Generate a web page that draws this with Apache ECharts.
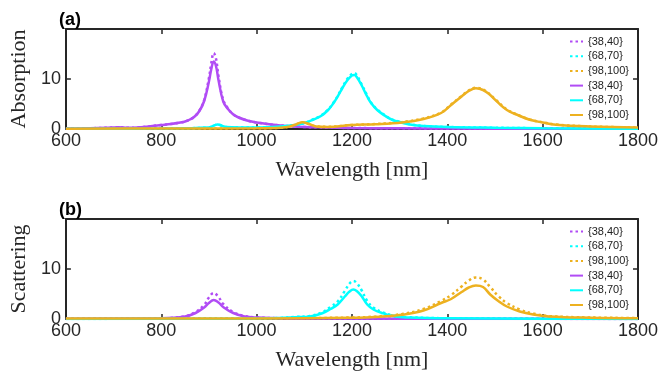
<!DOCTYPE html>
<html>
<head>
<meta charset="utf-8">
<script src="https://cdn.jsdelivr.net/npm/echarts@6/dist/echarts.min.js"></script>
<style>
  html, body { margin: 0; padding: 0; background: #fff; }
  #chart { width: 661px; height: 379px; }
</style>
</head>
<body>
<div id="chart"></div>
<script>
// legend labels (same for both panels)
const labels = ["{38,40}", "{68,70}", "{98,100}"];
const colors = ["#B14CF5", "#00FFFF", "#EDB120"];

// x axis ticks
const xMin = 600, xMax = 1800, xStep = 200;
const yMin = 0, yMax = 20, yStep = 10;

// (a) absorption, [wavelength nm, value]
const absPurpleDot = [[600,0.1],[650,0.15],[700,0.3],[710,0.35],[730,0.25],[750,0.3],[800,0.8],[820,1.0],[840,1.3],[850,1.5],[860,1.9],[870,2.5],[880,3.7],[890,5.8],[900,10.2],[905,13.2],[910,15.2],[915,14.0],[920,10.6],[930,5.8],[940,4.1],[950,3.0],[960,2.4],[980,1.7],[1000,1.3],[1050,0.7],[1100,0.4],[1150,0.3],[1200,0.2],[1300,0.15],[1400,0.1],[1600,0.05],[1800,0.05]];
const absCyanDot = [[600,0.05],[800,0.1],[900,0.3],[918,0.9],[935,0.4],[1000,0.3],[1050,0.5],[1084,0.85],[1100,1.2],[1118,1.9],[1135,2.7],[1150,3.9],[1160,5.1],[1170,6.6],[1180,8.4],[1190,10.0],[1200,11.0],[1205,11.2],[1210,10.8],[1220,9.0],[1232,6.7],[1240,5.3],[1253,3.9],[1270,2.7],[1284,1.9],[1300,1.45],[1325,0.9],[1350,0.6],[1400,0.4],[1500,0.25],[1600,0.15],[1800,0.05]];
const absOrangeDot = [[600,0.05],[800,0.1],[1000,0.15],[1050,0.25],[1070,0.5],[1085,1.0],[1096,1.3],[1110,1.0],[1125,0.5],[1150,0.45],[1200,0.8],[1250,1.0],[1305,1.4],[1350,2.1],[1387,3.3],[1408,4.9],[1430,6.6],[1445,7.7],[1460,8.25],[1475,7.9],[1490,6.9],[1501,5.9],[1525,3.9],[1550,2.75],[1573,1.9],[1600,1.35],[1628,0.9],[1700,0.5],[1800,0.3]];
const absPurpleLine = [[600,0.1],[650,0.15],[700,0.3],[710,0.35],[730,0.25],[750,0.3],[800,0.8],[820,1.0],[840,1.3],[850,1.5],[860,1.9],[870,2.5],[880,3.6],[890,5.6],[900,9.5],[905,12.0],[910,13.5],[915,12.5],[920,9.8],[930,5.5],[940,4.0],[950,3.0],[960,2.4],[980,1.7],[1000,1.3],[1050,0.7],[1100,0.4],[1150,0.3],[1200,0.2],[1300,0.15],[1400,0.1],[1600,0.05],[1800,0.05]];
const absCyanLine = [[600,0.05],[800,0.1],[900,0.3],[918,0.9],[935,0.4],[1000,0.3],[1050,0.5],[1084,0.85],[1100,1.2],[1118,1.85],[1135,2.6],[1150,3.8],[1160,5.0],[1170,6.5],[1180,8.2],[1190,9.7],[1200,10.7],[1205,10.8],[1210,10.4],[1220,8.8],[1232,6.5],[1240,5.2],[1253,3.8],[1270,2.6],[1284,1.85],[1300,1.4],[1325,0.85],[1350,0.6],[1400,0.4],[1500,0.25],[1600,0.15],[1800,0.05]];
const absOrangeLine = [[600,0.05],[800,0.1],[1000,0.15],[1050,0.25],[1070,0.5],[1085,1.0],[1096,1.35],[1110,1.0],[1125,0.5],[1150,0.4],[1200,0.8],[1250,0.95],[1305,1.3],[1350,2.0],[1387,3.2],[1408,4.8],[1430,6.5],[1445,7.6],[1460,8.15],[1475,7.8],[1490,6.8],[1501,5.8],[1525,3.8],[1550,2.7],[1573,1.85],[1600,1.3],[1628,0.85],[1700,0.5],[1800,0.3]];

// (b) scattering, [wavelength nm, value]
const scaPurpleDot = [[600,0.05],[800,0.15],[850,0.55],[872,1.4],[890,2.8],[900,4.3],[910,5.2],[920,4.4],[930,3.0],[951,1.4],[975,0.6],[1000,0.3],[1100,0.1],[1800,0.02]];
const scaCyanDot = [[600,0.02],[900,0.05],[1000,0.1],[1050,0.2],[1080,0.4],[1112,0.6],[1139,1.4],[1155,2.4],[1170,3.5],[1185,5.6],[1195,7.1],[1203,7.6],[1210,7.2],[1220,5.8],[1232,3.6],[1245,2.3],[1263,1.4],[1291,0.6],[1320,0.35],[1400,0.15],[1600,0.05],[1800,0.02]];
const scaOrangeDot = [[600,0.1],[1000,0.1],[1200,0.3],[1250,0.5],[1305,1.0],[1350,2.0],[1387,3.6],[1408,4.8],[1430,6.5],[1445,7.7],[1460,8.3],[1475,7.9],[1490,6.4],[1507,4.6],[1525,3.2],[1552,1.9],[1580,1.1],[1614,0.6],[1700,0.3],[1800,0.2]];
const scaPurpleLine = [[600,0.05],[800,0.15],[850,0.5],[872,1.2],[890,2.3],[900,3.2],[910,3.8],[920,3.3],[930,2.4],[951,1.2],[975,0.5],[1000,0.3],[1100,0.1],[1800,0.02]];
const scaCyanLine = [[600,0.02],[900,0.05],[1000,0.1],[1050,0.2],[1080,0.35],[1112,0.5],[1139,1.2],[1155,2.0],[1170,2.9],[1185,4.5],[1195,5.5],[1203,5.9],[1210,5.6],[1220,4.6],[1232,2.9],[1245,1.9],[1263,1.2],[1291,0.5],[1320,0.3],[1400,0.15],[1600,0.05],[1800,0.02]];
const scaOrangeLine = [[600,0.1],[1000,0.1],[1200,0.25],[1250,0.4],[1305,0.85],[1350,1.7],[1387,3.2],[1408,4.0],[1430,5.4],[1445,6.3],[1460,6.7],[1475,6.4],[1490,4.9],[1507,3.6],[1525,2.5],[1552,1.5],[1580,0.9],[1614,0.5],[1700,0.25],[1800,0.15]];

const panels = [
  { key: "a", title: "(a)", yName: "Absorption", top: 29,
    data: [absPurpleDot, absCyanDot, absOrangeDot, absPurpleLine, absCyanLine, absOrangeLine] },
  { key: "b", title: "(b)", yName: "Scattering", top: 219,
    data: [scaPurpleDot, scaCyanDot, scaOrangeDot, scaPurpleLine, scaCyanLine, scaOrangeLine] },
];

const axisColor = "#262626";
const tickFont = { fontFamily: "Liberation Sans", fontSize: 18, color: axisColor };
const nameFont = { fontFamily: "Liberation Serif", fontSize: 22, color: axisColor };
const plotH = 100;

const labelOf = {};
const grid = [], xAxis = [], yAxis = [], series = [], legend = [], title = [];

panels.forEach(function (p, i) {
  grid.push({ left: 59, right: 21, top: p.top, height: plotH });
  title.push({
    text: p.title, left: 54, top: p.top - 23,
    textStyle: { fontFamily: "Liberation Sans", fontWeight: "bold", fontSize: 18, color: "#000" },
  });
  const xBase = {
    type: "value", gridIndex: i, min: xMin, max: xMax, interval: xStep,
    axisLine: { show: true, onZero: false, lineStyle: { color: axisColor, width: 2 } },
    axisTick: { show: true, inside: true, length: 5, lineStyle: { color: axisColor, width: 1.5 } },
    splitLine: { show: false },
  };
  xAxis.push(Object.assign({}, xBase, {
    position: "bottom",
    name: "Wavelength [nm]", nameLocation: "middle", nameGap: 30, nameTextStyle: nameFont,
    axisLabel: Object.assign({ margin: 3, formatter: function (v) { return String(v); } }, tickFont),
  }));
  xAxis.push(Object.assign({}, xBase, { position: "top", axisLabel: { show: false } }));
  const yBase = {
    type: "value", gridIndex: i, min: yMin, max: yMax, interval: yStep,
    axisLine: { show: true, onZero: false, lineStyle: { color: axisColor, width: 2 } },
    axisTick: { show: true, inside: true, length: 5, lineStyle: { color: axisColor, width: 1.5 } },
    splitLine: { show: false },
  };
  yAxis.push(Object.assign({}, yBase, {
    position: "left",
    name: p.yName, nameLocation: "middle", nameGap: 30, nameTextStyle: nameFont,
    axisLabel: Object.assign({ margin: 5, formatter: function (v) { return v === yMax ? "" : String(v); } }, tickFont),
  }));
  yAxis.push(Object.assign({}, yBase, { position: "right", axisLabel: { show: false } }));

  const names = [];
  p.data.forEach(function (d, k) {
    const name = p.key + k;
    names.push(name);
    labelOf[name] = labels[k % 3];
    const dotted = k < 3;
    series.push({
      name: name, type: "line", data: d,
      xAxisIndex: i * 2, yAxisIndex: i * 2,
      symbol: "none", smooth: 0.4,
      lineStyle: { color: colors[k % 3], width: 2.5, type: dotted ? [2.5, 3] : "solid" },
      itemStyle: { color: colors[k % 3] },
    });
  });
  legend.push({
    data: names, orient: "vertical", left: 564, top: p.top + 2,
    itemWidth: 13, itemHeight: 11, itemGap: 3.7,
    itemStyle: { color: "rgba(0,0,0,0)", borderColor: "rgba(0,0,0,0)", borderWidth: 0, opacity: 0 },
    textStyle: { fontFamily: "Liberation Sans", fontSize: 11, color: "#222", lineHeight: 11 },
    formatter: function (n) { return labelOf[n]; },
  });
});

const chart = echarts.init(document.getElementById("chart"));
chart.setOption({
  animation: false,
  backgroundColor: "#fff",
  title: title,
  grid: grid,
  xAxis: xAxis,
  yAxis: yAxis,
  legend: legend,
  series: series,
});
</script>
</body>
</html>
